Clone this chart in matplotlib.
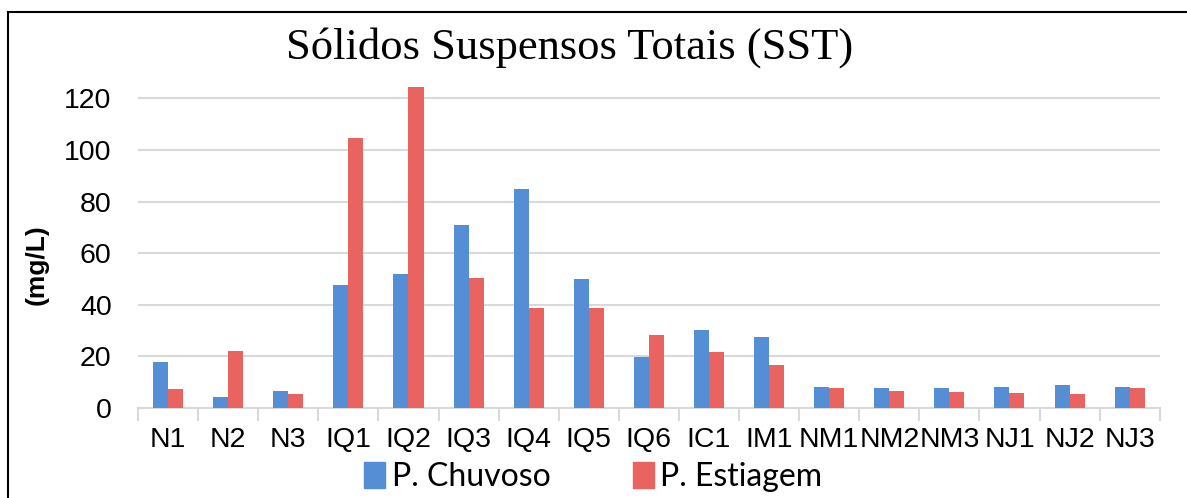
import matplotlib.pyplot as plt
import matplotlib.patches as mpatches
import numpy as np

# Data
sites = ['N1', 'N2', 'N3', 'IQ1', 'IQ2', 'IQ3', 'IQ4', 'IQ5', 'IQ6', 'IC1',
         'IM1', 'NM1', 'NM2', 'NM3', 'NJ1', 'NJ2', 'NJ3']
chuvoso = [17.8, 4.4, 6.6, 47.7, 51.9, 70.8, 84.7, 49.9, 19.8, 30.1,
           27.4, 8.0, 7.6, 7.8, 8.1, 8.9, 8.0]
estiagem = [7.4, 22.0, 5.4, 104.6, 124.3, 50.3, 38.7, 38.7, 28.3, 21.8,
            16.6, 7.8, 6.6, 6.3, 5.8, 5.5, 7.8]
yticks = [0, 20, 40, 60, 80, 100, 120]

blue = '#558ED5'
red = '#E96460'

fig = plt.figure(figsize=(11.87, 4.98), dpi=100)
ax = fig.add_axes([0.1163, 0.1807, 0.8607, 0.653])

x = np.arange(len(sites))
w = 0.25
ax.bar(x - w / 2, chuvoso, width=w, color=blue, zorder=3, label='P. Chuvoso')
ax.bar(x + w / 2, estiagem, width=w, color=red, zorder=3, label='P. Estiagem')

ax.set_xlim(-0.5, len(sites) - 0.5)
ax.set_ylim(0, 126)
ax.set_yticks(yticks)
ax.set_yticklabels([str(v) for v in yticks], fontsize=20.5, family='Liberation Sans')
ax.yaxis.grid(True, color='#D9D9D9', linewidth=1.5, zorder=0)
ax.tick_params(axis='y', length=0, pad=19)

ax.set_xticks(x)
ax.set_xticklabels(sites, fontsize=20.5, family='Liberation Sans')
ax.set_xticks(np.arange(-0.5, len(sites)), minor=True)
ax.tick_params(axis='x', which='major', length=0, pad=14)
ax.tick_params(axis='x', which='minor', length=9, color='#D9D9D9', width=1.5)

for s in ['top', 'right', 'left']:
    ax.spines[s].set_visible(False)
ax.spines['bottom'].set_color('#D9D9D9')
ax.spines['bottom'].set_linewidth(1.5)

# y label placed by hand, slightly below axes centre as in the reference
fig.text(37 / 1187, 1 - 265 / 498, '(mg/L)', rotation=90, ha='center', va='center',
         fontsize=19, fontweight='bold', family='Liberation Sans')

fig.text(0.48, 0.905, 'Sólidos Suspensos Totais (SST)', ha='center', va='center',
         fontsize=32, family='Liberation Serif')

handles = [mpatches.Patch(color=blue, label='P. Chuvoso'),
           mpatches.Patch(color=red, label='P. Estiagem')]
fig.legend(handles=handles, loc='center', bbox_to_anchor=(0.5, 0.042), ncol=2,
           frameon=False, prop={'family': 'Lato', 'size': 23},
           handlelength=0.65, handleheight=0.9, handletextpad=0.2, columnspacing=2.6)

# outer chart border (cropped at right and bottom)
border = mpatches.Rectangle((8 / 1187, -0.1), 1.2, 1 - 12 / 498 + 0.1,
                            transform=fig.transFigure, fill=False,
                            edgecolor='black', linewidth=1.5)
fig.patches.append(border)

fig.savefig('out.png', dpi=100)
